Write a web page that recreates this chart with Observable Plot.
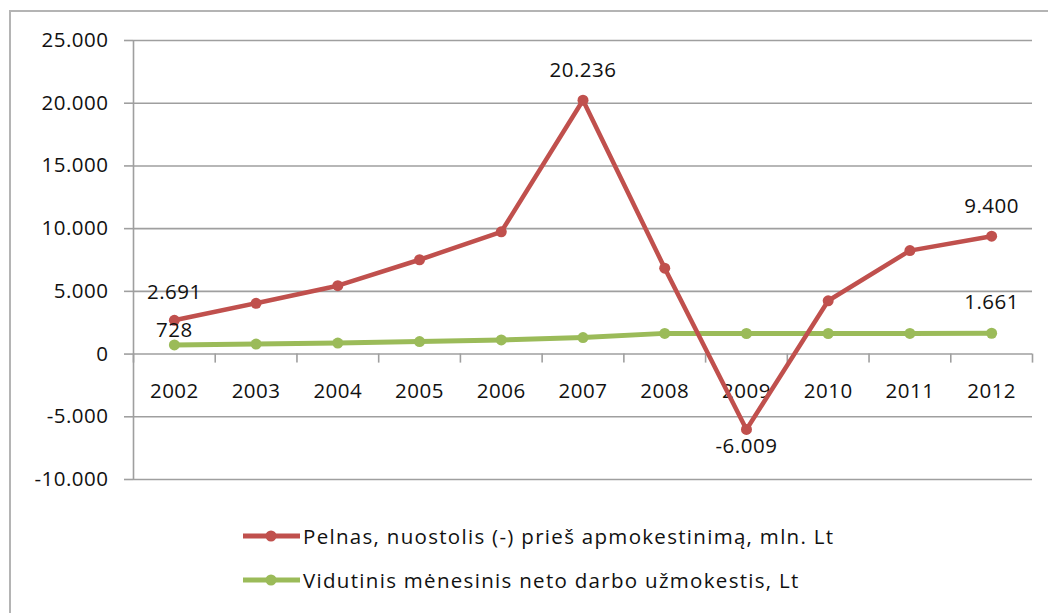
<!DOCTYPE html>
<html>
<head>
<meta charset="utf-8">
<script src="https://cdn.jsdelivr.net/npm/d3@7"></script>
<script src="https://cdn.jsdelivr.net/npm/@observablehq/plot@0.6"></script>
<style>
  html, body { margin: 0; padding: 0; background: #fff; }
  #wrap { position: relative; width: 1048px; height: 613px; overflow: hidden; font-family: "Open Sans", sans-serif; }
  #frame { position: absolute; left: 9px; top: 10px; width: 1200px; height: 800px; border-left: 2px solid #b4b4b4; border-top: 2px solid #b4b4b4; }
  #chart { position: absolute; left: 0; top: 0; }
  #chart svg text { letter-spacing: 0.5px; }
  .leg { position: absolute; left: 243px; display: flex; align-items: center; font-size: 20.5px; letter-spacing: 1.3px; color: #111; white-space: nowrap; }
  .leg svg { margin-right: 3px; }
</style>
</head>
<body>
<div id="wrap">
  <div id="frame"></div>
  <div id="chart"></div>
  <div class="leg" id="leg1" style="top:522px"></div>
  <div class="leg" id="leg2" style="top:566px"></div>
</div>
<script>
const years = [2002, 2003, 2004, 2005, 2006, 2007, 2008, 2009, 2010, 2011, 2012];
const profit = [2691, 4050, 5450, 7520, 9750, 20236, 6850, -6009, 4250, 8250, 9400];
const wage = [728, 800, 880, 1000, 1130, 1320, 1650, 1640, 1640, 1650, 1661];
const yTicks = [-10000, -5000, 0, 5000, 10000, 15000, 20000, 25000];
const seriesNames = ["Pelnas, nuostolis (-) prieš apmokestinimą, mln. Lt", "Vidutinis mėnesinis neto darbo užmokestis, Lt"];
const colors = ["#c0504d", "#9bbb59"];

const loc = d3.formatLocale({decimal: ",", thousands: ".", grouping: [3], currency: ["", ""], minus: "-"});
const fmt = loc.format(",d");

const profitData = years.map((year, i) => ({year, value: profit[i]}));
const wageData = years.map((year, i) => ({year, value: wage[i]}));
const boundaries = years.map(y => y - 0.5).concat([years[years.length - 1] + 0.5]);

const font = "Open Sans, sans-serif";
const lbl = {fontSize: 20.5, fill: "#111", fontFamily: font};

const chart = Plot.plot({
  width: 1048,
  height: 500,
  marginLeft: 133,
  marginRight: 16,
  marginTop: 40,
  marginBottom: 21,
  style: {fontFamily: font, background: "transparent"},
  x: {domain: [years[0] - 0.5, years[years.length - 1] + 0.5], axis: null},
  y: {domain: [yTicks[0], yTicks[yTicks.length - 1]], axis: null},
  marks: [
    Plot.ruleY(yTicks, {stroke: "#9f9f9f", strokeWidth: 1.6}),
    Plot.ruleX([years[0] - 0.5], {y1: yTicks[0], y2: yTicks[yTicks.length - 1], stroke: "#9f9f9f", strokeWidth: 1.6}),
    Plot.ruleX(boundaries, {y1: 0, y2: -720, stroke: "#9f9f9f", strokeWidth: 1.6}),
    Plot.axisY({ticks: yTicks, tickFormat: fmt, tickSize: 9, tickPadding: 16, stroke: "#9f9f9f", strokeWidth: 1.6, fontSize: 20.5, color: "#111", label: null}),
    Plot.text(years, {x: d => d, y: 0, dy: 37, text: d => String(d), ...lbl}),
    Plot.line(wageData, {x: "year", y: "value", stroke: colors[1], strokeWidth: 5}),
    Plot.dot(wageData, {x: "year", y: "value", r: 5.5, fill: colors[1]}),
    Plot.line(profitData, {x: "year", y: "value", stroke: colors[0], strokeWidth: 4.5}),
    Plot.dot(profitData, {x: "year", y: "value", r: 5.5, fill: colors[0]}),
    Plot.text(profitData.filter(d => d.year === 2002), {x: "year", y: "value", text: d => fmt(d.value), dy: -28, ...lbl}),
    Plot.text(profitData.filter(d => d.year === 2007 || d.year === 2012), {x: "year", y: "value", text: d => fmt(d.value), dy: -30, ...lbl}),
    Plot.text(profitData.filter(d => d.year === 2009), {x: "year", y: "value", text: d => fmt(d.value), dy: 17, ...lbl}),
    Plot.text(wageData.filter(d => d.year === 2002), {x: "year", y: "value", text: d => fmt(d.value), dy: -15, ...lbl}),
    Plot.text(wageData.filter(d => d.year === 2012), {x: "year", y: "value", text: d => fmt(d.value), dy: -31, ...lbl})
  ]
});
document.getElementById("chart").appendChild(chart);

function swatch(color) {
  return `<svg width="57" height="14"><line x1="0" y1="7" x2="57" y2="7" stroke="${color}" stroke-width="5"/><circle cx="28" cy="7" r="5.5" fill="${color}"/></svg>`;
}
document.getElementById("leg1").innerHTML = swatch(colors[0]) + `<span>${seriesNames[0]}</span>`;
document.getElementById("leg2").innerHTML = swatch(colors[1]) + `<span>${seriesNames[1]}</span>`;
</script>
</body>
</html>
